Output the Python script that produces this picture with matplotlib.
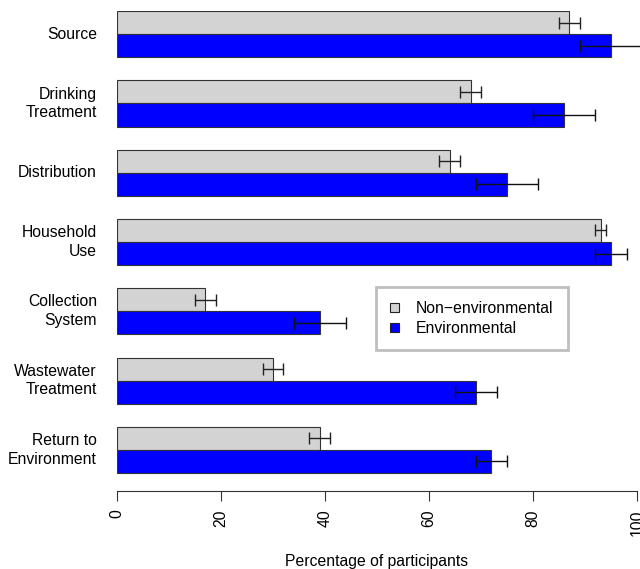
import matplotlib
matplotlib.use('Agg')
import matplotlib.pyplot as plt
from matplotlib.patches import Patch

plt.rcParams['font.family'] = ['Liberation Sans', 'DejaVu Sans']

# data, top to bottom as shown
stages = ['Source', 'Drinking\nTreatment', 'Distribution', 'Household\nUse',
          'Collection\nSystem', 'Wastewater\nTreatment', 'Return to\nEnvironment']
non_env = [87, 68, 64, 93, 17, 30, 39]
non_env_err = [2, 2, 2, 1, 2, 2, 2]
env = [95, 86, 75, 95, 39, 69, 72]
env_err = [6, 6, 6, 3, 5, 4, 3]
series_names = ['Non\u2212environmental', 'Environmental']
colors = ['#D3D3D3', '#0000FF']

W, H = 640, 569
fig = plt.figure(figsize=(W / 100, H / 100), dpi=100)
ax = fig.add_axes([117 / W, (H - 491) / H, 520 / W, (491 - 11) / H])

n = len(stages)
fs = 11.3
# R style barplot layout: each group = 2 bars of width 1, gap 1 between groups
for i in range(n):
    g = n - 1 - i          # bottom group is the last one
    y_env = 1 + 3 * g + 0.5
    y_non = 2 + 3 * g + 0.5
    ax.barh(y_non, non_env[i], height=1, color=colors[0], edgecolor='#333333', linewidth=0.8)
    ax.barh(y_env, env[i], height=1, color=colors[1], edgecolor='#333333', linewidth=0.8)
    ax.errorbar(non_env[i], y_non, xerr=non_env_err[i], fmt='none', ecolor='#222222',
                elinewidth=1, capsize=4.5, capthick=1, clip_on=False)
    ax.errorbar(env[i], y_env, xerr=env_err[i], fmt='none', ecolor='#111111',
                elinewidth=1, capsize=4.5, capthick=1, clip_on=False)
    ax.text(-20 * 100 / 520, 2 + 3 * g, stages[i], ha='right', va='center',
            fontsize=fs, linespacing=1.3)

ax.set_xlim(0, 100)
ax.set_ylim(1 - 18 / 23.1, 21)
ax.set_yticks([])
for s in ['top', 'right', 'left']:
    ax.spines[s].set_visible(False)
ax.spines['bottom'].set_bounds(0, 100)
ax.spines['bottom'].set_color('#333333')
ax.set_xticks([0, 20, 40, 60, 80, 100])
ax.tick_params(axis='x', length=7, width=0.8, color='#333333', labelsize=fs,
               labelrotation=90, pad=6)
ax.set_xlabel('Percentage of participants', fontsize=fs, labelpad=13)

handles = [Patch(facecolor=c, edgecolor='#222222', linewidth=0.8) for c in colors]
leg = fig.legend(handles, series_names, loc='upper left',
                 bbox_to_anchor=(376 / W, 1 - 287 / H), fontsize=fs,
                 frameon=True, fancybox=False, framealpha=1, borderpad=0.9,
                 handlelength=0.55, handleheight=0.55, handletextpad=1.1,
                 labelspacing=0.33, borderaxespad=0)
leg.get_frame().set_edgecolor('#BEBEBE')
leg.get_frame().set_linewidth(2)

fig.savefig('out.png', dpi=100)
